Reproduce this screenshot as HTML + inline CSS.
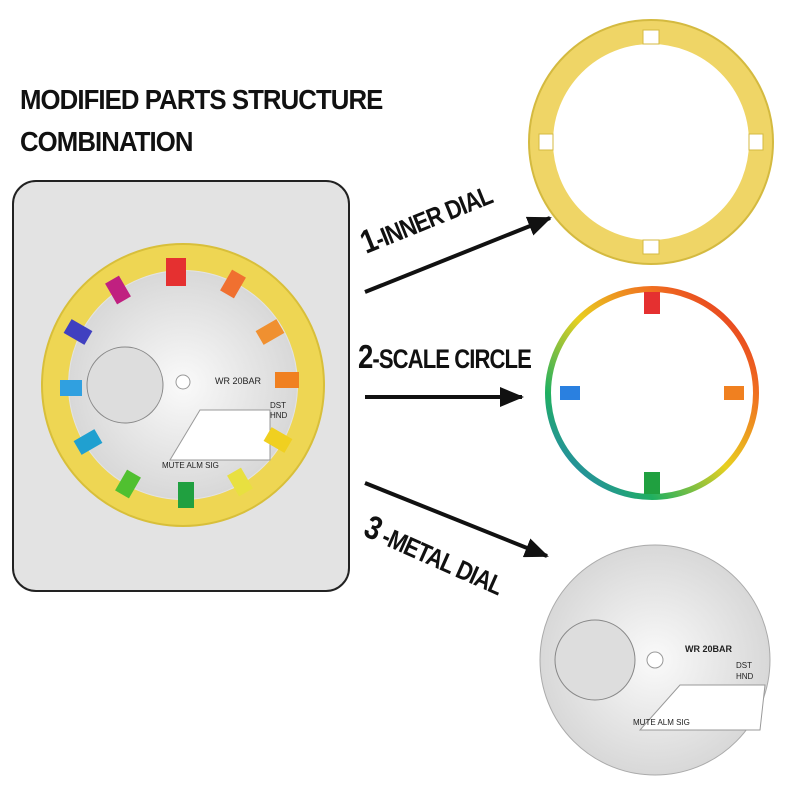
<!DOCTYPE html>
<html><head><meta charset="utf-8"><style>
body{margin:0;background:#fff;width:800px;height:800px;overflow:hidden;position:relative;font-family:"Liberation Sans",sans-serif}
.t{position:absolute;left:20px;font-weight:bold;font-size:28px;color:#111;letter-spacing:-1px;transform:scaleX(0.92);transform-origin:left}
.box{position:absolute;left:12px;top:180px;width:334px;height:408px;border:2px solid #222;border-radius:24px;background:#e3e3e3}
svg{position:absolute;left:0;top:0}
</style></head><body>
<div class="t" style="top:84px">MODIFIED PARTS STRUCTURE</div>
<div class="t" style="top:126px">COMBINATION</div>
<div class="box"></div>
<svg width="800" height="800" viewBox="0 0 800 800">
<defs>
<marker id="a" markerWidth="24" markerHeight="20" refX="22" refY="10" orient="auto" markerUnits="userSpaceOnUse" viewBox="0 0 24 20"><path d="M0,0 L24,10 L0,20 z" fill="#111"/></marker>
<radialGradient id="sil" cx="0.5" cy="0.5" r="0.5"><stop offset="0" stop-color="#fafafa"/><stop offset="1" stop-color="#d8d8d8"/></radialGradient>
<linearGradient id="rb" x1="0" y1="1" x2="1" y2="0"><stop offset="0" stop-color="#2a6ee0"/><stop offset="0.25" stop-color="#20b060"/><stop offset="0.5" stop-color="#e8d020"/><stop offset="0.75" stop-color="#f07020"/><stop offset="1" stop-color="#e02020"/></linearGradient>
</defs>
<circle cx="183" cy="385" r="128" fill="none" stroke="#eed653" stroke-width="26"/>
<circle cx="183" cy="385" r="141" fill="none" stroke="#d8bf3a" stroke-width="2"/>
<circle cx="183" cy="385" r="114" fill="url(#sil)"/>
<circle cx="125" cy="385" r="38" fill="#ddd" stroke="#888"/>
<circle cx="183" cy="382" r="7" fill="#fff" stroke="#999"/>
<polygon points="200,410 270,410 270,460 170,460" fill="#fff" stroke="#999"/>
<text x="215" y="384" font-size="9" fill="#222">WR 20BAR</text>
<text x="270" y="408" font-size="8" fill="#222">DST</text><text x="270" y="418" font-size="8" fill="#222">HND</text>
<text x="162" y="468" font-size="8" fill="#222">MUTE  ALM  SIG</text>
<g stroke-width="0">
<rect x="166" y="258" width="20" height="28" fill="#e53030"/>
<rect x="225" y="272" width="16" height="24" fill="#f07030" transform="rotate(30 233 284)"/>
<rect x="262" y="320" width="16" height="24" fill="#f09030" transform="rotate(60 270 332)"/>
<rect x="275" y="372" width="24" height="16" fill="#f08020"/>
<rect x="270" y="428" width="16" height="24" fill="#f0d020" transform="rotate(-60 278 440)"/>
<rect x="232" y="470" width="16" height="24" fill="#e8e040" transform="rotate(-30 240 482)"/>
<rect x="178" y="482" width="16" height="26" fill="#20a040"/>
<rect x="120" y="472" width="16" height="24" fill="#50c030" transform="rotate(30 128 484)"/>
<rect x="80" y="430" width="16" height="24" fill="#20a0d0" transform="rotate(60 88 442)"/>
<rect x="60" y="380" width="22" height="16" fill="#30a0e0"/>
<rect x="70" y="320" width="16" height="24" fill="#4040c0" transform="rotate(-60 78 332)"/>
<rect x="110" y="278" width="16" height="24" fill="#c02080" transform="rotate(-30 118 290)"/>
</g>
<circle cx="651" cy="142" r="110" fill="none" stroke="#efd566" stroke-width="24"/>
<circle cx="651" cy="142" r="122" fill="none" stroke="#d4ba40" stroke-width="2"/>
<g fill="#fff" stroke="#d4ba40">
<rect x="643" y="30" width="16" height="14"/><rect x="643" y="240" width="16" height="14"/>
<rect x="539" y="134" width="14" height="16"/><rect x="749" y="134" width="14" height="16"/>
</g>
<circle cx="652" cy="393" r="104" fill="none" stroke="url(#rb)" stroke-width="6"/>
<g>
<rect x="644" y="292" width="16" height="22" fill="#e53030"/>
<rect x="644" y="472" width="16" height="22" fill="#20a040"/>
<rect x="560" y="386" width="20" height="14" fill="#2a80e0"/>
<rect x="724" y="386" width="20" height="14" fill="#f08020"/>
</g>
<circle cx="655" cy="660" r="115" fill="url(#sil)" stroke="#aaa"/>
<circle cx="595" cy="660" r="40" fill="#ddd" stroke="#888"/>
<circle cx="655" cy="660" r="8" fill="#fff" stroke="#999"/>
<polygon points="680,685 765,685 760,730 640,730" fill="#fff" stroke="#999"/>
<text x="685" y="652" font-size="9" font-weight="bold" fill="#222">WR 20BAR</text>
<text x="736" y="668" font-size="8" fill="#222">DST</text><text x="736" y="679" font-size="8" fill="#222">HND</text>
<text x="633" y="725" font-size="8" fill="#222">MUTE  ALM  SIG</text>
<line x1="365" y1="292" x2="550" y2="218" stroke="#111" stroke-width="4" marker-end="url(#a)"/>
<line x1="365" y1="397" x2="522" y2="397" stroke="#111" stroke-width="4" marker-end="url(#a)"/>
<line x1="365" y1="483" x2="547" y2="556" stroke="#111" stroke-width="4" marker-end="url(#a)"/>
<g font-weight="bold" fill="#111" font-size="24">
<text transform="translate(366,254) rotate(-22) scale(0.92,1.1)" letter-spacing="-1"><tspan font-size="30">1</tspan>-INNER DIAL</text>
<text transform="translate(358,368) scale(0.92,1.1)" letter-spacing="-1"><tspan font-size="30">2</tspan>-SCALE CIRCLE</text>
<text transform="translate(362,535) rotate(24) scale(0.92,1.1)" letter-spacing="-1"><tspan font-size="30">3</tspan> -METAL DIAL</text>
</g>
</svg>
</body></html>
